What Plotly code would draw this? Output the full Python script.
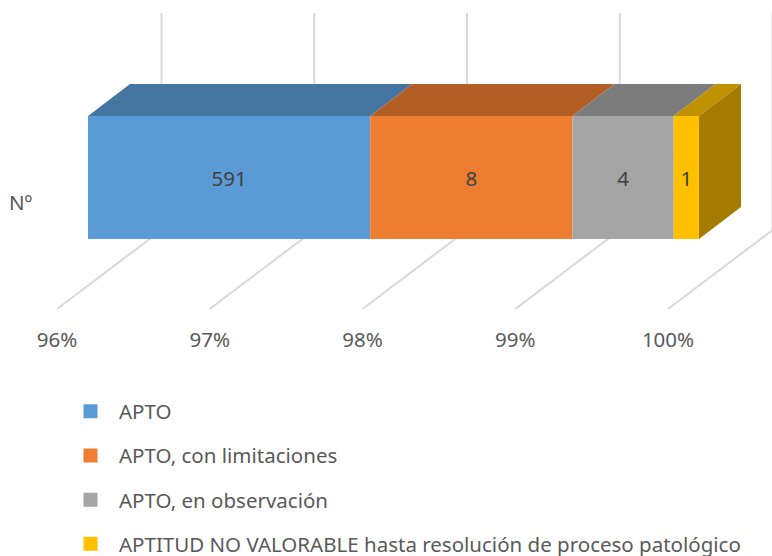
import plotly.graph_objects as go

categories = ["Nº"]
series_names = ["APTO", "APTO, con limitaciones", "APTO, en observación",
                "APTITUD NO VALORABLE hasta resolución de proceso patológico"]
counts = [591, 8, 4, 1]
tick_values = [96, 97, 98, 99, 100]
tick_labels = ["96%", "97%", "98%", "99%", "100%"]

front_colors = ["#5B9BD5", "#ED7D31", "#A5A5A5", "#FFC000"]
top_colors = ["#4575A1", "#B35E25", "#7C7C7C", "#BF9000"]
side_color = "#A67C00"
grid_color = "#D9D9D9"
text_color = "#595959"
label_color = "#404040"
FONT = "Noto Sans"
FS = 20.5

W, H = 772, 556
AX_MIN = 96
PX_PER_PCT = 152.75
X0_PX = 88
Y_C_PX = 177.5
BAR_PX = 123
PLOT_BOTTOM = 325

x_range = [AX_MIN - X0_PX / PX_PER_PCT, 100 + (W - 699) / PX_PER_PCT]
y_range = [(Y_C_PX - PLOT_BOTTOM) / BAR_PX, Y_C_PX / BAR_PX]

DX = 42 / PX_PER_PCT
DY = 32 / BAR_PX
TICK_SHIFT = -31 / PX_PER_PCT
WALL_SHIFT = 73.5 / PX_PER_PCT
Y_FLOOR_FRONT = (Y_C_PX - 309) / BAR_PX
Y_FLOOR_BACK = (Y_C_PX - 230) / BAR_PX
Y_WALL_TOP = (Y_C_PX - 13) / BAR_PX

total = sum(counts)
fig = go.Figure()

cum = 0.0
for name, n, fc, tc in zip(series_names, counts, front_colors, top_colors):
    start = cum
    cum += n / total * 100
    base = max(start, AX_MIN)
    end = cum
    fig.add_trace(go.Bar(
        y=[0], x=[end - base], base=[base], width=[1], orientation="h",
        marker=dict(color=fc, line=dict(width=0)),
        text=[str(n)], textposition="inside", insidetextanchor="middle",
        textangle=0, constraintext="none",
        textfont=dict(family=FONT, size=FS, color=label_color),
        showlegend=False, hoverinfo="skip",
    ))
    fig.add_trace(go.Scatter(
        x=[base, end, end + DX, base + DX, base],
        y=[0.5, 0.5, 0.5 + DY, 0.5 + DY, 0.5],
        mode="lines", fill="toself", fillcolor=tc, line=dict(width=0),
        showlegend=False, hoverinfo="skip",
    ))
    fig.add_trace(go.Scatter(
        x=[None], y=[None], mode="markers", name=name, legendgroup=name,
        marker=dict(symbol="square", size=14, color=fc),
    ))

fig.add_trace(go.Scatter(
    x=[cum, cum + DX, cum + DX, cum, cum],
    y=[0.5, 0.5 + DY, -0.5 + DY, -0.5, 0.5],
    mode="lines", fill="toself", fillcolor=side_color, line=dict(width=0),
    showlegend=False, hoverinfo="skip",
))

for t in tick_values:
    fig.add_shape(type="line", layer="below", xref="x", yref="y",
                  x0=t + TICK_SHIFT, y0=Y_FLOOR_FRONT, x1=t + WALL_SHIFT, y1=Y_FLOOR_BACK,
                  line=dict(color=grid_color, width=2))
    fig.add_shape(type="line", layer="below", xref="x", yref="y",
                  x0=t + WALL_SHIFT, y0=Y_FLOOR_BACK, x1=t + WALL_SHIFT, y1=Y_WALL_TOP,
                  line=dict(color=grid_color, width=2))

fig.update_layout(
    width=W, height=H, autosize=False,
    margin=dict(l=0, r=0, t=0, b=H - PLOT_BOTTOM, autoexpand=False),
    paper_bgcolor="white", plot_bgcolor="rgba(0,0,0,0)",
    barmode="overlay",
    font=dict(family=FONT, size=FS, color=text_color),
    xaxis=dict(range=x_range, tickvals=[t + TICK_SHIFT for t in tick_values],
               ticktext=tick_labels, showgrid=False, zeroline=False, showline=False,
               ticks="", tickfont=dict(size=FS, color=text_color), fixedrange=True),
    yaxis=dict(range=y_range, tickvals=[(Y_C_PX - 203) / BAR_PX], ticktext=categories,
               ticklabelposition="inside", ticklabelstandoff=6,
               showgrid=False, zeroline=False, showline=False,
               ticks="", tickfont=dict(size=FS, color=text_color), fixedrange=True),
    legend=dict(x=62 / W, y=(PLOT_BOTTOM - 391.5) / PLOT_BOTTOM, xanchor="left", yanchor="top",
                orientation="v", itemwidth=47, tracegroupgap=14.5, traceorder="grouped",
                font=dict(size=FS, color=text_color), bgcolor="rgba(0,0,0,0)"),
    showlegend=True,
)

fig.write_html("out.html", post_script="document.body.style.margin='0';",
               config={"displayModeBar": False})
